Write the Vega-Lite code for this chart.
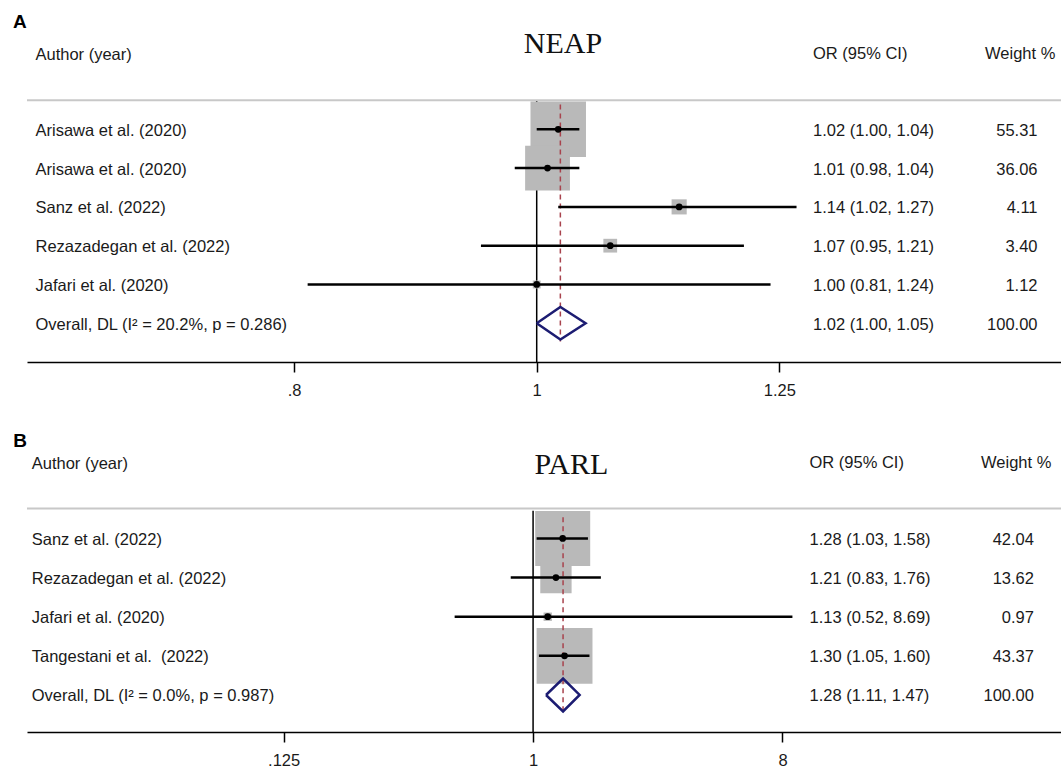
{
  "$schema": "https://vega.github.io/schema/vega-lite/v6.json",
  "padding": {"left": 13, "top": 0, "right": 0, "bottom": 0},
  "spacing": 0,
  "background": "white",
  "config": {
    "view": {"stroke": null},
    "font": "Liberation Sans",
    "axisX": {"domainColor": "#000", "domainWidth": 1.5, "tickColor": "#000", "tickWidth": 1.5, "tickSize": 10, "labelFont": "Liberation Sans", "labelFontSize": 16.5, "labelColor": "#1a1a1a", "labelPadding": 10, "grid": false, "labelFlush": false, "labelOverlap": false}
  },
  "resolve": {"scale": {"x": "independent", "y": "independent", "size": "independent"}},
  "datasets": {
    "neap": [
      {"row": 1, "author": "Arisawa et al. (2020)", "or": 1.02, "lo": 1.00, "hi": 1.04, "w": 55.31, "ci": "1.02 (1.00, 1.04)", "wt": "55.31", "type": "study"},
      {"row": 2, "author": "Arisawa et al. (2020)", "or": 1.01, "lo": 0.98, "hi": 1.04, "w": 36.06, "ci": "1.01 (0.98, 1.04)", "wt": "36.06", "type": "study"},
      {"row": 3, "author": "Sanz et al. (2022)", "or": 1.14, "lo": 1.02, "hi": 1.27, "w": 4.11, "ci": "1.14 (1.02, 1.27)", "wt": "4.11", "type": "study"},
      {"row": 4, "author": "Rezazadegan et al. (2022)", "or": 1.07, "lo": 0.95, "hi": 1.21, "w": 3.40, "ci": "1.07 (0.95, 1.21)", "wt": "3.40", "type": "study"},
      {"row": 5, "author": "Jafari et al. (2020)", "or": 1.00, "lo": 0.81, "hi": 1.24, "w": 1.12, "ci": "1.00 (0.81, 1.24)", "wt": "1.12", "type": "study"},
      {"row": 6, "author": "Overall, DL (I² = 20.2%, p = 0.286)", "or": 1.022, "lo": 1.00, "hi": 1.046, "w": 100, "ci": "1.02 (1.00, 1.05)", "wt": "100.00", "type": "overall"}
    ],
    "neap_d": [
      {"k": 0, "x": 1.00, "row": 6},
      {"k": 1, "x": 1.022, "row": 5.58},
      {"k": 2, "x": 1.046, "row": 6},
      {"k": 3, "x": 1.022, "row": 6.42},
      {"k": 4, "x": 1.00, "row": 6}
    ],
    "parl": [
      {"row": 1, "author": "Sanz et al. (2022)", "or": 1.28, "lo": 1.03, "hi": 1.58, "w": 42.04, "ci": "1.28 (1.03, 1.58)", "wt": "42.04", "type": "study"},
      {"row": 2, "author": "Rezazadegan et al. (2022)", "or": 1.21, "lo": 0.83, "hi": 1.76, "w": 13.62, "ci": "1.21 (0.83, 1.76)", "wt": "13.62", "type": "study"},
      {"row": 3, "author": "Jafari et al. (2020)", "or": 1.13, "lo": 0.52, "hi": 8.69, "w": 0.97, "ci": "1.13 (0.52, 8.69)", "wt": "0.97", "type": "study"},
      {"row": 4, "author": "Tangestani et al.\u00a0 (2022)", "or": 1.30, "lo": 1.05, "hi": 1.60, "w": 43.37, "ci": "1.30 (1.05, 1.60)", "wt": "43.37", "type": "study"},
      {"row": 5, "author": "Overall, DL (I² = 0.0%, p = 0.987)", "or": 1.284, "lo": 1.114, "hi": 1.474, "w": 100, "ci": "1.28 (1.11, 1.47)", "wt": "100.00", "type": "overall"}
    ],
    "parl_d": [
      {"k": 0, "x": 1.114, "row": 5},
      {"k": 1, "x": 1.284, "row": 4.58},
      {"k": 2, "x": 1.474, "row": 5},
      {"k": 3, "x": 1.284, "row": 5.42},
      {"k": 4, "x": 1.114, "row": 5}
    ]
  },
  "vconcat": [
    {
      "width": 1034,
      "height": 362,
      "layer": [
        {
          "data": {"values": [{}]},
          "mark": {"type": "rule", "color": "#c8c8c8", "strokeWidth": 2},
          "encoding": {
            "y": {"datum": 0.253, "type": "quantitative", "scale": {"domain": [-2.332, 6.998], "reverse": true, "nice": false, "zero": false}, "axis": null}
          }
        },
        {
          "data": {"values": [{}]},
          "mark": {"type": "rule", "color": "#000", "strokeWidth": 1.5},
          "encoding": {
            "x": {"datum": 1, "type": "quantitative", "scale": {"type": "log", "domain": [0.6257, 1.6198], "nice": false, "zero": false}, "axis": {"values": [0.8, 1, 1.25], "format": "~g", "labelExpr": "datum.value < 1 ? substring(datum.label, 1) : datum.label", "title": null}},
            "y": {"datum": 0.27, "type": "quantitative", "scale": {"domain": [-2.332, 6.998], "reverse": true, "nice": false, "zero": false}, "axis": null},
            "y2": {"datum": 6.998}
          }
        },
        {
          "data": {"name": "neap"},
          "transform": [{"filter": "datum.type == 'study'"}],
          "mark": {"type": "point", "shape": "square", "filled": true, "color": "#b9b9b9", "opacity": 1, "strokeWidth": 0},
          "encoding": {
            "x": {"field": "or", "type": "quantitative", "scale": {"type": "log", "domain": [0.6257, 1.6198], "nice": false, "zero": false}, "axis": {"values": [0.8, 1, 1.25], "format": "~g", "labelExpr": "datum.value < 1 ? substring(datum.label, 1) : datum.label", "title": null}},
            "y": {"field": "row", "type": "quantitative", "scale": {"domain": [-2.332, 6.998], "reverse": true, "nice": false, "zero": false}, "axis": null},
            "size": {"field": "w", "type": "quantitative", "scale": {"domain": [0, 100], "range": [0, 5570], "zero": true}, "legend": null}
          }
        },
        {
          "data": {"name": "neap"},
          "transform": [{"filter": "datum.type == 'overall'"}],
          "mark": {"type": "rule", "color": "#a8434d", "strokeWidth": 1.5, "strokeDash": [5, 4]},
          "encoding": {
            "x": {"field": "or", "type": "quantitative", "scale": {"type": "log", "domain": [0.6257, 1.6198], "nice": false, "zero": false}, "axis": {"values": [0.8, 1, 1.25], "format": "~g", "labelExpr": "datum.value < 1 ? substring(datum.label, 1) : datum.label", "title": null}},
            "y": {"datum": 0.36, "type": "quantitative", "scale": {"domain": [-2.332, 6.998], "reverse": true, "nice": false, "zero": false}, "axis": null},
            "y2": {"datum": 6.47}
          }
        },
        {
          "data": {"name": "neap"},
          "transform": [{"filter": "datum.type == 'study'"}],
          "mark": {"type": "rule", "color": "#000", "strokeWidth": 2.5},
          "encoding": {
            "x": {"field": "lo", "type": "quantitative", "scale": {"type": "log", "domain": [0.6257, 1.6198], "nice": false, "zero": false}, "axis": {"values": [0.8, 1, 1.25], "format": "~g", "labelExpr": "datum.value < 1 ? substring(datum.label, 1) : datum.label", "title": null}},
            "x2": {"field": "hi"},
            "y": {"field": "row", "type": "quantitative", "scale": {"domain": [-2.332, 6.998], "reverse": true, "nice": false, "zero": false}, "axis": null}
          }
        },
        {
          "data": {"name": "neap"},
          "transform": [{"filter": "datum.type == 'study'"}],
          "mark": {"type": "point", "shape": "circle", "filled": true, "color": "#000", "opacity": 1, "size": 45},
          "encoding": {
            "x": {"field": "or", "type": "quantitative", "scale": {"type": "log", "domain": [0.6257, 1.6198], "nice": false, "zero": false}, "axis": {"values": [0.8, 1, 1.25], "format": "~g", "labelExpr": "datum.value < 1 ? substring(datum.label, 1) : datum.label", "title": null}},
            "y": {"field": "row", "type": "quantitative", "scale": {"domain": [-2.332, 6.998], "reverse": true, "nice": false, "zero": false}, "axis": null}
          }
        },
        {
          "data": {"name": "neap_d"},
          "mark": {"type": "line", "color": "#1c1c72", "strokeWidth": 2.5, "strokeJoin": "miter"},
          "encoding": {
            "x": {"field": "x", "type": "quantitative", "scale": {"type": "log", "domain": [0.6257, 1.6198], "nice": false, "zero": false}, "axis": {"values": [0.8, 1, 1.25], "format": "~g", "labelExpr": "datum.value < 1 ? substring(datum.label, 1) : datum.label", "title": null}},
            "y": {"field": "row", "type": "quantitative", "scale": {"domain": [-2.332, 6.998], "reverse": true, "nice": false, "zero": false}, "axis": null},
            "order": {"field": "k", "type": "quantitative"}
          }
        },
        {
          "data": {"name": "neap"},
          "mark": {"type": "text", "align": "left", "baseline": "middle", "dy": 1.5, "fontSize": 16.5, "color": "#1a1a1a"},
          "encoding": {
            "x": {"datum": 0.6306, "type": "quantitative", "scale": {"type": "log", "domain": [0.6257, 1.6198], "nice": false, "zero": false}, "axis": {"values": [0.8, 1, 1.25], "format": "~g", "labelExpr": "datum.value < 1 ? substring(datum.label, 1) : datum.label", "title": null}},
            "y": {"field": "row", "type": "quantitative", "scale": {"domain": [-2.332, 6.998], "reverse": true, "nice": false, "zero": false}, "axis": null},
            "text": {"field": "author"}
          }
        },
        {
          "data": {"name": "neap"},
          "mark": {"type": "text", "align": "left", "baseline": "middle", "dy": 1.5, "fontSize": 16.5, "color": "#1a1a1a"},
          "encoding": {
            "x": {"datum": 1.2894, "type": "quantitative", "scale": {"type": "log", "domain": [0.6257, 1.6198], "nice": false, "zero": false}, "axis": {"values": [0.8, 1, 1.25], "format": "~g", "labelExpr": "datum.value < 1 ? substring(datum.label, 1) : datum.label", "title": null}},
            "y": {"field": "row", "type": "quantitative", "scale": {"domain": [-2.332, 6.998], "reverse": true, "nice": false, "zero": false}, "axis": null},
            "text": {"field": "ci"}
          }
        },
        {
          "data": {"name": "neap"},
          "mark": {"type": "text", "align": "right", "baseline": "middle", "dy": 1.5, "fontSize": 16.5, "color": "#1a1a1a"},
          "encoding": {
            "x": {"datum": 1.5852, "type": "quantitative", "scale": {"type": "log", "domain": [0.6257, 1.6198], "nice": false, "zero": false}, "axis": {"values": [0.8, 1, 1.25], "format": "~g", "labelExpr": "datum.value < 1 ? substring(datum.label, 1) : datum.label", "title": null}},
            "y": {"field": "row", "type": "quantitative", "scale": {"domain": [-2.332, 6.998], "reverse": true, "nice": false, "zero": false}, "axis": null},
            "text": {"field": "wt"}
          }
        },
        {
          "data": {"values": [{}]},
          "mark": {"type": "text", "align": "left", "baseline": "middle", "dy": 1.5, "fontSize": 16.5, "color": "#1a1a1a", "text": "Author (year)"},
          "encoding": {
            "x": {"datum": 0.6306, "type": "quantitative", "scale": {"type": "log", "domain": [0.6257, 1.6198], "nice": false, "zero": false}, "axis": {"values": [0.8, 1, 1.25], "format": "~g", "labelExpr": "datum.value < 1 ? substring(datum.label, 1) : datum.label", "title": null}},
            "y": {"datum": -0.96, "type": "quantitative", "scale": {"domain": [-2.332, 6.998], "reverse": true, "nice": false, "zero": false}, "axis": null}
          }
        },
        {
          "data": {"values": [{}]},
          "mark": {"type": "text", "align": "left", "baseline": "middle", "dy": 1.5, "fontSize": 16.5, "color": "#1a1a1a", "text": "OR (95% CI)"},
          "encoding": {
            "x": {"datum": 1.2894, "type": "quantitative", "scale": {"type": "log", "domain": [0.6257, 1.6198], "nice": false, "zero": false}, "axis": {"values": [0.8, 1, 1.25], "format": "~g", "labelExpr": "datum.value < 1 ? substring(datum.label, 1) : datum.label", "title": null}},
            "y": {"datum": -0.97, "type": "quantitative", "scale": {"domain": [-2.332, 6.998], "reverse": true, "nice": false, "zero": false}, "axis": null}
          }
        },
        {
          "data": {"values": [{}]},
          "mark": {"type": "text", "align": "left", "baseline": "middle", "dy": 1.5, "fontSize": 16.5, "color": "#1a1a1a", "text": "Weight %"},
          "encoding": {
            "x": {"datum": 1.5105, "type": "quantitative", "scale": {"type": "log", "domain": [0.6257, 1.6198], "nice": false, "zero": false}, "axis": {"values": [0.8, 1, 1.25], "format": "~g", "labelExpr": "datum.value < 1 ? substring(datum.label, 1) : datum.label", "title": null}},
            "y": {"datum": -0.97, "type": "quantitative", "scale": {"domain": [-2.332, 6.998], "reverse": true, "nice": false, "zero": false}, "axis": null}
          }
        },
        {
          "data": {"values": [{}]},
          "mark": {"type": "text", "align": "center", "baseline": "alphabetic", "font": "Liberation Serif", "fontSize": 30, "color": "#111", "text": "NEAP"},
          "encoding": {
            "x": {"datum": 1.0245, "type": "quantitative", "scale": {"type": "log", "domain": [0.6257, 1.6198], "nice": false, "zero": false}, "axis": {"values": [0.8, 1, 1.25], "format": "~g", "labelExpr": "datum.value < 1 ? substring(datum.label, 1) : datum.label", "title": null}},
            "y": {"datum": -0.966, "type": "quantitative", "scale": {"domain": [-2.332, 6.998], "reverse": true, "nice": false, "zero": false}, "axis": null}
          }
        },
        {
          "data": {"values": [{}]},
          "mark": {"type": "text", "align": "left", "baseline": "middle", "fontSize": 19, "fontWeight": "bold", "color": "#000", "text": "A"},
          "encoding": {
            "x": {"datum": 0.6177, "type": "quantitative", "scale": {"type": "log", "domain": [0.6257, 1.6198], "nice": false, "zero": false}, "axis": {"values": [0.8, 1, 1.25], "format": "~g", "labelExpr": "datum.value < 1 ? substring(datum.label, 1) : datum.label", "title": null}},
            "y": {"datum": -1.766, "type": "quantitative", "scale": {"domain": [-2.332, 6.998], "reverse": true, "nice": false, "zero": false}, "axis": null}
          }
        }
      ]
    },
    {
      "width": 1034,
      "height": 333,
      "layer": [
        {
          "data": {"values": [{}]},
          "mark": {"type": "rule", "color": "#c8c8c8", "strokeWidth": 2},
          "encoding": {
            "y": {"datum": 0.233, "type": "quantitative", "scale": {"domain": [-2.563, 5.946], "reverse": true, "nice": false, "zero": false}, "axis": null}
          }
        },
        {
          "data": {"values": [{}]},
          "mark": {"type": "rule", "color": "#000", "strokeWidth": 1.5},
          "encoding": {
            "x": {"datum": 1, "type": "quantitative", "scale": {"type": "log", "domain": [0.01471, 81.56], "nice": false, "zero": false}, "axis": {"values": [0.125, 1, 8], "format": "~g", "labelExpr": "datum.value < 1 ? substring(datum.label, 1) : datum.label", "title": null}},
            "y": {"datum": 0.29, "type": "quantitative", "scale": {"domain": [-2.563, 5.946], "reverse": true, "nice": false, "zero": false}, "axis": null},
            "y2": {"datum": 5.946}
          }
        },
        {
          "data": {"name": "parl"},
          "transform": [{"filter": "datum.type == 'study'"}],
          "mark": {"type": "point", "shape": "square", "filled": true, "color": "#b9b9b9", "opacity": 1, "strokeWidth": 0},
          "encoding": {
            "x": {"field": "or", "type": "quantitative", "scale": {"type": "log", "domain": [0.01471, 81.56], "nice": false, "zero": false}, "axis": {"values": [0.125, 1, 8], "format": "~g", "labelExpr": "datum.value < 1 ? substring(datum.label, 1) : datum.label", "title": null}},
            "y": {"field": "row", "type": "quantitative", "scale": {"domain": [-2.563, 5.946], "reverse": true, "nice": false, "zero": false}, "axis": null},
            "size": {"field": "w", "type": "quantitative", "scale": {"domain": [0, 100], "range": [0, 7200], "zero": true}, "legend": null}
          }
        },
        {
          "data": {"name": "parl"},
          "transform": [{"filter": "datum.type == 'overall'"}],
          "mark": {"type": "rule", "color": "#a8434d", "strokeWidth": 1.5, "strokeDash": [5, 4]},
          "encoding": {
            "x": {"field": "or", "type": "quantitative", "scale": {"type": "log", "domain": [0.01471, 81.56], "nice": false, "zero": false}, "axis": {"values": [0.125, 1, 8], "format": "~g", "labelExpr": "datum.value < 1 ? substring(datum.label, 1) : datum.label", "title": null}},
            "y": {"datum": 0.46, "type": "quantitative", "scale": {"domain": [-2.563, 5.946], "reverse": true, "nice": false, "zero": false}, "axis": null},
            "y2": {"datum": 5.45}
          }
        },
        {
          "data": {"name": "parl"},
          "transform": [{"filter": "datum.type == 'study'"}],
          "mark": {"type": "rule", "color": "#000", "strokeWidth": 2.5},
          "encoding": {
            "x": {"field": "lo", "type": "quantitative", "scale": {"type": "log", "domain": [0.01471, 81.56], "nice": false, "zero": false}, "axis": {"values": [0.125, 1, 8], "format": "~g", "labelExpr": "datum.value < 1 ? substring(datum.label, 1) : datum.label", "title": null}},
            "x2": {"field": "hi"},
            "y": {"field": "row", "type": "quantitative", "scale": {"domain": [-2.563, 5.946], "reverse": true, "nice": false, "zero": false}, "axis": null}
          }
        },
        {
          "data": {"name": "parl"},
          "transform": [{"filter": "datum.type == 'study'"}],
          "mark": {"type": "point", "shape": "circle", "filled": true, "color": "#000", "opacity": 1, "size": 45},
          "encoding": {
            "x": {"field": "or", "type": "quantitative", "scale": {"type": "log", "domain": [0.01471, 81.56], "nice": false, "zero": false}, "axis": {"values": [0.125, 1, 8], "format": "~g", "labelExpr": "datum.value < 1 ? substring(datum.label, 1) : datum.label", "title": null}},
            "y": {"field": "row", "type": "quantitative", "scale": {"domain": [-2.563, 5.946], "reverse": true, "nice": false, "zero": false}, "axis": null}
          }
        },
        {
          "data": {"name": "parl_d"},
          "mark": {"type": "line", "color": "#1c1c72", "strokeWidth": 2.5, "strokeJoin": "miter"},
          "encoding": {
            "x": {"field": "x", "type": "quantitative", "scale": {"type": "log", "domain": [0.01471, 81.56], "nice": false, "zero": false}, "axis": {"values": [0.125, 1, 8], "format": "~g", "labelExpr": "datum.value < 1 ? substring(datum.label, 1) : datum.label", "title": null}},
            "y": {"field": "row", "type": "quantitative", "scale": {"domain": [-2.563, 5.946], "reverse": true, "nice": false, "zero": false}, "axis": null},
            "order": {"field": "k", "type": "quantitative"}
          }
        },
        {
          "data": {"name": "parl"},
          "mark": {"type": "text", "align": "left", "baseline": "middle", "dy": 1.5, "fontSize": 16.5, "color": "#1a1a1a"},
          "encoding": {
            "x": {"datum": 0.0153, "type": "quantitative", "scale": {"type": "log", "domain": [0.01471, 81.56], "nice": false, "zero": false}, "axis": {"values": [0.125, 1, 8], "format": "~g", "labelExpr": "datum.value < 1 ? substring(datum.label, 1) : datum.label", "title": null}},
            "y": {"field": "row", "type": "quantitative", "scale": {"domain": [-2.563, 5.946], "reverse": true, "nice": false, "zero": false}, "axis": null},
            "text": {"field": "author"}
          }
        },
        {
          "data": {"name": "parl"},
          "mark": {"type": "text", "align": "left", "baseline": "middle", "dy": 1.5, "fontSize": 16.5, "color": "#1a1a1a"},
          "encoding": {
            "x": {"datum": 10.02, "type": "quantitative", "scale": {"type": "log", "domain": [0.01471, 81.56], "nice": false, "zero": false}, "axis": {"values": [0.125, 1, 8], "format": "~g", "labelExpr": "datum.value < 1 ? substring(datum.label, 1) : datum.label", "title": null}},
            "y": {"field": "row", "type": "quantitative", "scale": {"domain": [-2.563, 5.946], "reverse": true, "nice": false, "zero": false}, "axis": null},
            "text": {"field": "ci"}
          }
        },
        {
          "data": {"name": "parl"},
          "mark": {"type": "text", "align": "right", "baseline": "middle", "dy": 1.5, "fontSize": 16.5, "color": "#1a1a1a"},
          "encoding": {
            "x": {"datum": 65.1, "type": "quantitative", "scale": {"type": "log", "domain": [0.01471, 81.56], "nice": false, "zero": false}, "axis": {"values": [0.125, 1, 8], "format": "~g", "labelExpr": "datum.value < 1 ? substring(datum.label, 1) : datum.label", "title": null}},
            "y": {"field": "row", "type": "quantitative", "scale": {"domain": [-2.563, 5.946], "reverse": true, "nice": false, "zero": false}, "axis": null},
            "text": {"field": "wt"}
          }
        },
        {
          "data": {"values": [{}]},
          "mark": {"type": "text", "align": "left", "baseline": "middle", "dy": 1.5, "fontSize": 16.5, "color": "#1a1a1a", "text": "Author (year)"},
          "encoding": {
            "x": {"datum": 0.0153, "type": "quantitative", "scale": {"type": "log", "domain": [0.01471, 81.56], "nice": false, "zero": false}, "axis": {"values": [0.125, 1, 8], "format": "~g", "labelExpr": "datum.value < 1 ? substring(datum.label, 1) : datum.label", "title": null}},
            "y": {"datum": -0.95, "type": "quantitative", "scale": {"domain": [-2.563, 5.946], "reverse": true, "nice": false, "zero": false}, "axis": null}
          }
        },
        {
          "data": {"values": [{}]},
          "mark": {"type": "text", "align": "left", "baseline": "middle", "dy": 1.5, "fontSize": 16.5, "color": "#1a1a1a", "text": "OR (95% CI)"},
          "encoding": {
            "x": {"datum": 10.02, "type": "quantitative", "scale": {"type": "log", "domain": [0.01471, 81.56], "nice": false, "zero": false}, "axis": {"values": [0.125, 1, 8], "format": "~g", "labelExpr": "datum.value < 1 ? substring(datum.label, 1) : datum.label", "title": null}},
            "y": {"datum": -0.96, "type": "quantitative", "scale": {"domain": [-2.563, 5.946], "reverse": true, "nice": false, "zero": false}, "axis": null}
          }
        },
        {
          "data": {"values": [{}]},
          "mark": {"type": "text", "align": "left", "baseline": "middle", "dy": 1.5, "fontSize": 16.5, "color": "#1a1a1a", "text": "Weight %"},
          "encoding": {
            "x": {"datum": 41.88, "type": "quantitative", "scale": {"type": "log", "domain": [0.01471, 81.56], "nice": false, "zero": false}, "axis": {"values": [0.125, 1, 8], "format": "~g", "labelExpr": "datum.value < 1 ? substring(datum.label, 1) : datum.label", "title": null}},
            "y": {"datum": -0.96, "type": "quantitative", "scale": {"domain": [-2.563, 5.946], "reverse": true, "nice": false, "zero": false}, "axis": null}
          }
        },
        {
          "data": {"values": [{}]},
          "mark": {"type": "text", "align": "center", "baseline": "alphabetic", "font": "Liberation Serif", "fontSize": 30, "color": "#111", "text": "PARL"},
          "encoding": {
            "x": {"datum": 1.376, "type": "quantitative", "scale": {"type": "log", "domain": [0.01471, 81.56], "nice": false, "zero": false}, "axis": {"values": [0.125, 1, 8], "format": "~g", "labelExpr": "datum.value < 1 ? substring(datum.label, 1) : datum.label", "title": null}},
            "y": {"datum": -0.645, "type": "quantitative", "scale": {"domain": [-2.563, 5.946], "reverse": true, "nice": false, "zero": false}, "axis": null}
          }
        },
        {
          "data": {"values": [{}]},
          "mark": {"type": "text", "align": "left", "baseline": "middle", "fontSize": 19, "fontWeight": "bold", "color": "#000", "text": "B"},
          "encoding": {
            "x": {"datum": 0.013127, "type": "quantitative", "scale": {"type": "log", "domain": [0.01471, 81.56], "nice": false, "zero": false}, "axis": {"values": [0.125, 1, 8], "format": "~g", "labelExpr": "datum.value < 1 ? substring(datum.label, 1) : datum.label", "title": null}},
            "y": {"datum": -1.501, "type": "quantitative", "scale": {"domain": [-2.563, 5.946], "reverse": true, "nice": false, "zero": false}, "axis": null}
          }
        }
      ]
    }
  ]
}
